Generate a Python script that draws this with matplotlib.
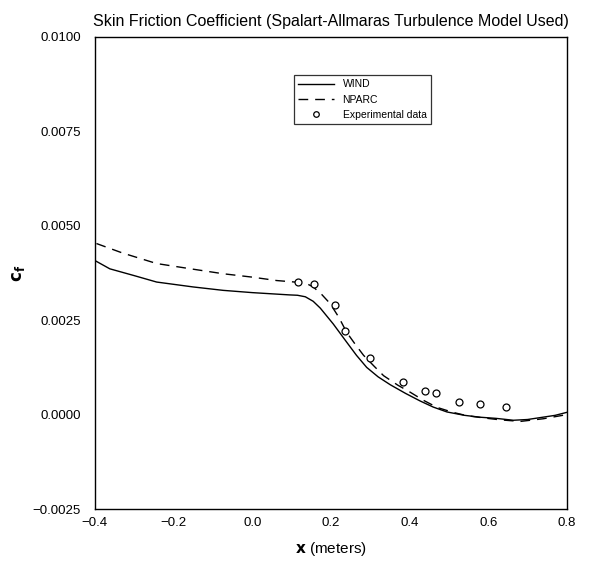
import matplotlib
matplotlib.use("Agg")
import matplotlib.pyplot as plt

# WIND (solid)
wind_x = [-0.40, -0.362, -0.30, -0.243, -0.15, -0.074, 0.0, 0.094, 0.115, 0.135, 0.155, 0.173, 0.206, 0.240,
          0.265, 0.291, 0.320, 0.351, 0.390, 0.427, 0.460, 0.495, 0.540, 0.580, 0.620, 0.664, 0.700, 0.732, 0.770, 0.800]
wind_cf = [0.00408, 0.00386, 0.00368, 0.00351, 0.00338, 0.00329, 0.00323, 0.00317, 0.00316, 0.00312, 0.00300, 0.00282, 0.00240, 0.00192,
           0.00157, 0.00125, 0.00100, 0.00079, 0.00056, 0.00036, 0.00020, 0.00007, -0.00002, -0.00007, -0.00010, -0.00015, -0.00013, -0.00008, -0.00002, 0.00006]

# NPARC (dashed)
nparc_x = [-0.396, -0.33, -0.243, -0.15, -0.074, 0.0, 0.062, 0.12, 0.140, 0.155, 0.175, 0.198, 0.220, 0.240, 0.262,
           0.283, 0.310, 0.334, 0.370, 0.402, 0.435, 0.470, 0.510, 0.546, 0.590, 0.631, 0.682, 0.740, 0.800]
nparc_cf = [0.00453, 0.00428, 0.00400, 0.00385, 0.00373, 0.00364, 0.00355, 0.00350, 0.00346, 0.00338, 0.00320, 0.00294, 0.00258, 0.00218, 0.00186,
            0.00157, 0.00128, 0.00103, 0.00078, 0.00059, 0.00038, 0.00019, 0.00006, -0.00003, -0.00009, -0.00014, -0.00018, -0.00011, 0.00000]

# experimental data
exp_x = [0.117, 0.157, 0.211, 0.236, 0.300, 0.383, 0.440, 0.467, 0.525, 0.580, 0.645]
exp_cf = [0.00350, 0.00345, 0.00289, 0.00221, 0.00149, 0.00086, 0.00062, 0.00057, 0.00034, 0.00027, 0.00019]

xticks = [-0.4, -0.2, 0.0, 0.2, 0.4, 0.6, 0.8]
yticks = [-0.0025, 0.0, 0.0025, 0.0050, 0.0075, 0.0100]

plt.rcParams['font.family'] = ['Liberation Sans', 'DejaVu Sans']
fig = plt.figure(figsize=(5.93, 5.66), dpi=100)
ax = fig.add_axes([0.160, 0.1007, 0.796, 0.834])

ax.plot(wind_x, wind_cf, color='black', lw=1.0, label='WIND')
ax.plot(nparc_x, nparc_cf, color='black', lw=1.0, dashes=(7, 5), label='NPARC')
ax.plot(exp_x, exp_cf, linestyle='none', marker='o', markersize=5, markerfacecolor='white',
        markeredgecolor='black', markeredgewidth=0.9, label='Experimental data')

ax.set_xlim(-0.4, 0.8)
ax.set_ylim(-0.0025, 0.0100)
ax.set_xticks(xticks)
ax.set_xticklabels(['\u22120.4', '\u22120.2', '0.0', '0.2', '0.4', '0.6', '0.8'])
ax.set_yticks(yticks)
ax.set_yticklabels(['\u22120.0025', '0.0000', '0.0025', '0.0050', '0.0075', '0.0100'])
ax.tick_params(axis='y', length=0, labelsize=9.5, pad=10)
ax.tick_params(axis='x', length=0, labelsize=9.5, pad=6)
for s in ax.spines.values():
    s.set_linewidth(1.0)

ax.set_title('Skin Friction Coefficient (Spalart-Allmaras Turbulence Model Used)', fontsize=11.5, pad=8)
ax.set_xlabel(r'$\mathbf{x}$ (meters)', fontsize=11, labelpad=8)
ax.set_ylabel(r'$\mathbf{c_f}$', fontsize=12)

leg = ax.legend(loc='upper left', bbox_to_anchor=(0.41, 0.93), fontsize=7.5, frameon=True,
                fancybox=False, edgecolor='black', handlelength=3.5, markerscale=0.8)
leg.get_frame().set_linewidth(0.9)

fig.savefig('out.png', dpi=100)
